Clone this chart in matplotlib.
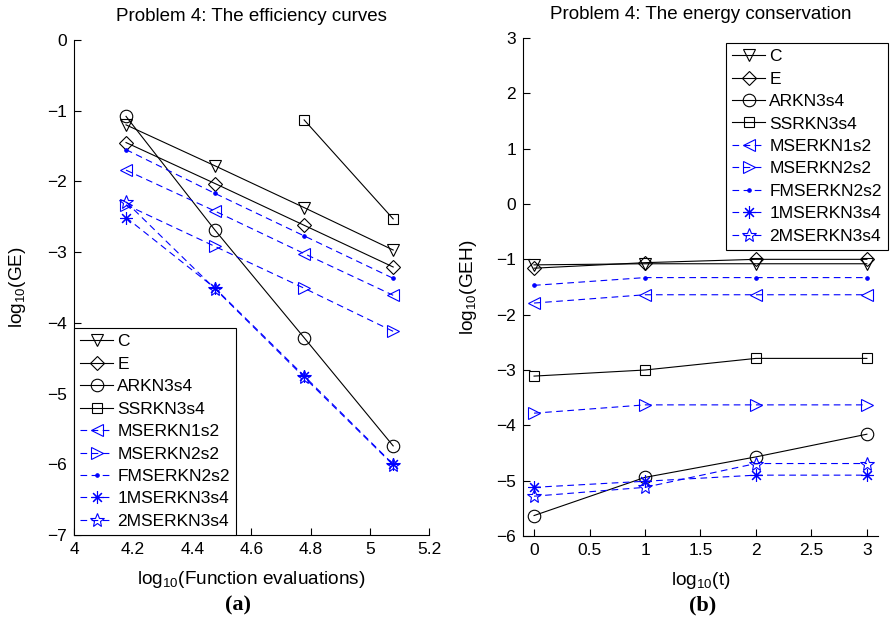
import matplotlib
matplotlib.use("Agg")
import matplotlib.pyplot as plt

plt.rcParams['font.family'] = ['Liberation Sans', 'DejaVu Sans']
plt.rcParams['mathtext.fontset'] = 'custom'
plt.rcParams['mathtext.rm'] = 'Liberation Sans'
plt.rcParams['mathtext.it'] = 'Liberation Sans'

names = ['C', 'E', 'ARKN3s4', 'SSRKN3s4', 'MSERKN1s2', 'MSERKN2s2',
         'FMSERKN2s2', '1MSERKN3s4', '2MSERKN3s4']

# Panel (a): efficiency curves
fe_x = [4.176, 4.477, 4.778, 5.079]
ge_C = [-1.20, -1.78, -2.37, -2.97]
ge_E = [-1.45, -2.03, -2.62, -3.21]
ge_ARKN = [-1.08, -2.69, -4.21, -5.74]
ge_SSRKN_x = [4.778, 5.079]
ge_SSRKN = [-1.13, -2.53]
ge_MS1 = [-1.84, -2.42, -3.02, -3.61]
ge_MS2 = [-2.33, -2.92, -3.51, -4.12]
ge_FMS = [-1.55, -2.17, -2.77, -3.37]
ge_1MS3 = [-2.51, -3.51, -4.75, -6.00]
ge_2MS3 = [-2.29, -3.52, -4.77, -6.01]

# Panel (b): energy conservation
t_x = [0, 1, 2, 3]
geh_C = [-1.10, -1.08, -1.08, -1.08]
geh_E = [-1.16, -1.06, -1.00, -1.00]
geh_ARKN = [-5.63, -4.94, -4.57, -4.16]
geh_SSRKN = [-3.11, -3.00, -2.79, -2.79]
geh_MS1 = [-1.79, -1.64, -1.64, -1.64]
geh_MS2 = [-3.78, -3.63, -3.63, -3.63]
geh_FMS = [-1.47, -1.33, -1.33, -1.33]
geh_1MS3 = [-5.12, -5.01, -4.90, -4.90]
geh_2MS3 = [-5.28, -5.12, -4.69, -4.69]

black = '#000000'
blue = '#0000ff'
dash = (0, (6, 4))
styles = [
    dict(color=black, ls='-', marker='v', ms=9),
    dict(color=black, ls='-', marker='D', ms=7.5),
    dict(color=black, ls='-', marker='o', ms=9),
    dict(color=black, ls='-', marker='s', ms=7),
    dict(color=blue, ls=dash, marker='<', ms=9),
    dict(color=blue, ls=dash, marker='>', ms=9),
    dict(color=blue, ls=dash, marker='.', ms=5),
    dict(color=blue, ls=dash, marker=(8, 2, 0), ms=9),
    dict(color=blue, ls=dash, marker='*', ms=10),
]

fig = plt.figure(figsize=(8.9, 6.33), dpi=100)
ax1 = fig.add_axes([0.0831, 0.1548, 0.3989, 0.7820])
ax2 = fig.add_axes([0.5876, 0.1532, 0.3989, 0.7868])

data_a = [(fe_x, ge_C), (fe_x, ge_E), (fe_x, ge_ARKN), (ge_SSRKN_x, ge_SSRKN),
          (fe_x, ge_MS1), (fe_x, ge_MS2), (fe_x, ge_FMS), (fe_x, ge_1MS3), (fe_x, ge_2MS3)]
data_b = [(t_x, geh_C), (t_x, geh_E), (t_x, geh_ARKN), (t_x, geh_SSRKN),
          (t_x, geh_MS1), (t_x, geh_MS2), (t_x, geh_FMS), (t_x, geh_1MS3), (t_x, geh_2MS3)]

for ax, data in ((ax1, data_a), (ax2, data_b)):
    for name, (xs, ys), st in zip(names, data, styles):
        filled = st['marker'] == '.'
        ax.plot(xs, ys, color=st['color'], ls=st['ls'], lw=0.8,
                marker=st['marker'], ms=st['ms'], mew=0.8,
                mfc=st['color'] if filled else 'none', mec=st['color'],
                label=name)
    for side in ('top', 'right'):
        ax.spines[side].set_visible(False)
    for side in ('left', 'bottom'):
        ax.spines[side].set_linewidth(0.8)
    ax.tick_params(direction='in', labelsize=12.5, length=5, width=0.8, pad=5)

leg_kw = dict(fontsize=12.5, frameon=True, fancybox=False, edgecolor='black',
              framealpha=1, handlelength=1.9, handletextpad=0.25, borderpad=0.35,
              labelspacing=0.42, borderaxespad=0.0)

ax1.set_xlim(4, 5.2)
ax1.set_ylim(-7, 0)
ax1.set_xticks([4, 4.2, 4.4, 4.6, 4.8, 5, 5.2])
ax1.set_xticklabels(['4', '4.2', '4.4', '4.6', '4.8', '5', '5.2'])
ax1.set_yticks(range(-7, 1))
ax1.set_yticklabels(['\u22127', '\u22126', '\u22125', '\u22124', '\u22123', '\u22122', '\u22121', '0'])
ax1.set_title('Problem 4: The efficiency curves', fontsize=13.5, pad=14)
ax1.set_xlabel('log$_{10}$(Function evaluations)', fontsize=13.7, labelpad=9)
ax1.set_ylabel('log$_{10}$(GE)', fontsize=13.7, labelpad=14)
leg1 = ax1.legend(loc='lower left', bbox_to_anchor=(0.0, 0.0), **leg_kw)
leg1.get_frame().set_linewidth(0.8)

ax2.set_xlim(-0.1, 3.1)
ax2.set_ylim(-6, 3)
ax2.set_xticks([0, 0.5, 1, 1.5, 2, 2.5, 3])
ax2.set_xticklabels(['0', '0.5', '1', '1.5', '2', '2.5', '3'])
ax2.set_yticks(range(-6, 4))
ax2.set_yticklabels(['\u22126', '\u22125', '\u22124', '\u22123', '\u22122', '\u22121', '0', '1', '2', '3'])
ax2.set_title('Problem 4: The energy conservation', fontsize=13.5, pad=14)
ax2.set_xlabel('log$_{10}$(t)', fontsize=13.7, labelpad=9)
ax2.set_ylabel('log$_{10}$(GEH)', fontsize=13.7, labelpad=12)
leg2 = ax2.legend(loc='upper right', bbox_to_anchor=(888 / 890, 1 - 43 / 633),
                  bbox_transform=fig.transFigure, **leg_kw)
leg2.get_frame().set_linewidth(0.8)

fig.text(0.267, 0.043, '(a)', fontsize=16, fontweight='bold',
         family=['Liberation Serif', 'DejaVu Serif'], ha='center', va='center')
fig.text(0.789, 0.043, '(b)', fontsize=16, fontweight='bold',
         family=['Liberation Serif', 'DejaVu Serif'], ha='center', va='center')

fig.savefig('out.png', dpi=100)
